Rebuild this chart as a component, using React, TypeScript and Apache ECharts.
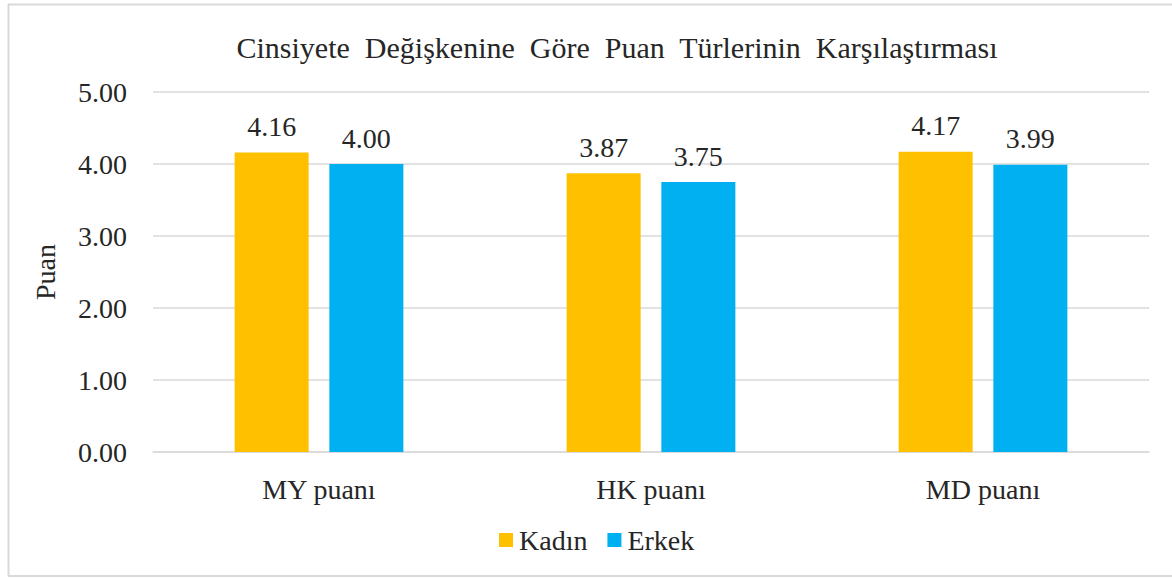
import React, { useEffect, useRef } from "react";
import * as echarts from "echarts";

const categories = ["MY puanı", "HK puanı", "MD puanı"];
const kadin = [4.16, 3.87, 4.17];
const erkek = [4.0, 3.75, 3.99];
const titleText = "Cinsiyete  Değişkenine  Göre  Puan  Türlerinin  Karşılaştırması";

export default function App() {
  const ref = useRef<HTMLDivElement>(null);
  useEffect(() => {
    const chart = echarts.init(ref.current!, null, { renderer: "svg" });
    const font = "Liberation Serif";
    const fs = 28;
    const txt = "#262626";
    chart.setOption({
      animation: false,
      backgroundColor: "#ffffff",
      title: {
        text: titleText,
        left: 612,
        textAlign: "center",
        top: 27,
        textStyle: { fontFamily: font, fontSize: 30, fontWeight: "normal", color: txt },
      },
      legend: {
        top: 521,
        left: 494,
        itemWidth: 14,
        itemHeight: 14,
        itemGap: 20,
        icon: "rect",
        textStyle: { fontFamily: font, fontSize: fs, color: txt, padding: [0, 0, 0, 1] },
        data: ["Kadın", "Erkek"],
      },
      graphic: [
        { type: "line", shape: { x1: 8.5, y1: 4, x2: 8.5, y2: 576 }, style: { stroke: "#d9d9d9", lineWidth: 2 } },
        { type: "line", shape: { x1: 8, y1: 4.5, x2: 1172, y2: 4.5 }, style: { stroke: "#d9d9d9", lineWidth: 2 } },
        { type: "line", shape: { x1: 8, y1: 576, x2: 1172, y2: 576 }, style: { stroke: "#d9d9d9", lineWidth: 2 } },
      ],
      grid: { left: 153, right: 23, top: 92, bottom: 126 },
      xAxis: {
        type: "category",
        data: categories,
        axisLine: { lineStyle: { color: "#d9d9d9", width: 1.5 } },
        axisTick: { show: false },
        axisLabel: { fontFamily: font, fontSize: fs, color: txt, margin: 23 },
      },
      yAxis: {
        type: "value",
        min: 0,
        max: 5,
        interval: 1,
        name: "Puan",
        nameLocation: "middle",
        nameGap: 94,
        nameRotate: 90,
        nameTextStyle: { fontFamily: font, fontSize: fs, color: txt },
        axisLabel: {
          fontFamily: font,
          fontSize: fs,
          color: txt,
          margin: 26,
          formatter: (v: number) => v.toFixed(2),
        },
        splitLine: { lineStyle: { color: "#d9d9d9", width: 1.5 } },
        axisLine: { show: false },
        axisTick: { show: false },
      },
      series: [
        {
          name: "Kadın",
          type: "bar",
          data: kadin,
          barWidth: 74,
          barGap: "28%",
          itemStyle: { color: "#FFC000" },
          label: {
            show: true,
            position: "top",
            distance: 12,
            fontFamily: font,
            fontSize: fs,
            color: txt,
            formatter: (p: any) => Number(p.value).toFixed(2),
          },
        },
        {
          name: "Erkek",
          type: "bar",
          data: erkek,
          barWidth: 74,
          itemStyle: { color: "#00B0F0" },
          label: {
            show: true,
            position: "top",
            distance: 12,
            fontFamily: font,
            fontSize: fs,
            color: txt,
            formatter: (p: any) => Number(p.value).toFixed(2),
          },
        },
      ],
    });
    return () => chart.dispose();
  }, []);
  return (
    <div
      ref={ref}
      style={{ position: "fixed", left: 0, top: 0, width: 1172, height: 578, background: "#fff" }}
    />
  );
}
